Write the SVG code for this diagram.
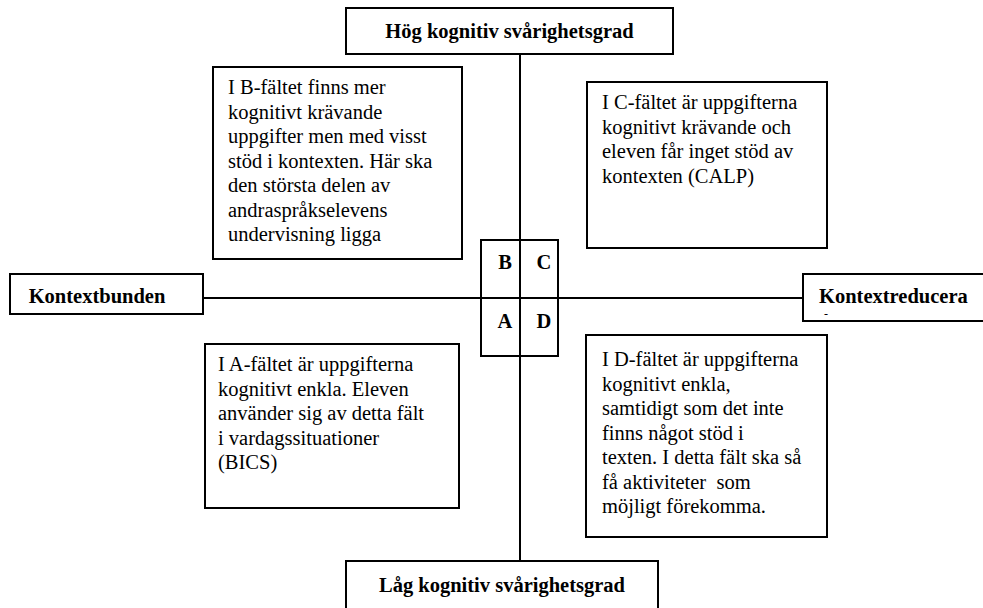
<svg xmlns="http://www.w3.org/2000/svg" width="983" height="608" viewBox="0 0 983 608">
<style>
.box{fill:#fff;stroke:#000;stroke-width:2}
.ln{stroke:#000;stroke-width:2;fill:none}
.t{font-family:"Liberation Serif","Times New Roman",serif;font-size:20.5px;fill:#000}
.b{font-family:"Liberation Serif","Times New Roman",serif;font-size:20.5px;font-weight:bold;fill:#000}
</style>
<rect width="983" height="608" fill="#fff"/>
<g id="connectors">
<line class="ln" x1="520" y1="54" x2="520" y2="561"/>
<line class="ln" x1="203" y1="298" x2="803" y2="298"/>
</g>
<g id="top">
<rect class="box" x="346" y="8" width="327" height="46"/>
<text class="b" x="509.5" y="38" text-anchor="middle">Hög kognitiv svårighetsgrad</text>
</g>
<g id="bottom">
<rect class="box" x="346" y="561" width="312" height="50"/>
<text class="b" x="502" y="592" text-anchor="middle">Låg kognitiv svårighetsgrad</text>
</g>
<g id="left">
<rect class="box" x="10" y="274" width="193" height="40"/>
<text class="b" x="97" y="303" text-anchor="middle">Kontextbunden</text>
</g>
<g id="right">
<rect class="box" x="803" y="274" width="185" height="47"/>
<text class="b" x="819" y="303">Kontextreducera</text>
<text class="t" x="824" y="318" style="font-size:12px">-</text>
</g>
<g id="center">
<rect x="481" y="240" width="77" height="116" fill="none" stroke="#000" stroke-width="2"/>
<line class="ln" x1="520" y1="240" x2="520" y2="356"/>
<line class="ln" x1="481" y1="298" x2="558" y2="298"/>
<text class="b" x="505" y="269" text-anchor="middle">B</text>
<text class="b" x="544" y="269" text-anchor="middle">C</text>
<text class="b" x="505" y="328" text-anchor="middle">A</text>
<text class="b" x="544" y="328" text-anchor="middle">D</text>
</g>
<g id="boxB">
<rect class="box" x="213" y="67" width="249" height="192"/>
<text class="t" x="228" y="94">I B-fältet finns mer</text>
<text class="t" x="228" y="118.5">kognitivt krävande</text>
<text class="t" x="228" y="143">uppgifter men med visst</text>
<text class="t" x="228" y="167.5">stöd i kontexten. Här ska</text>
<text class="t" x="228" y="192">den största delen av</text>
<text class="t" x="228" y="216.5">andraspråkselevens</text>
<text class="t" x="228" y="241">undervisning ligga</text>
</g>
<g id="boxC">
<rect class="box" x="587" y="82" width="240" height="166"/>
<text class="t" x="602" y="109">I C-fältet är uppgifterna</text>
<text class="t" x="602" y="133.5">kognitivt krävande och</text>
<text class="t" x="602" y="158">eleven får inget stöd av</text>
<text class="t" x="602" y="182.5">kontexten (CALP)</text>
</g>
<g id="boxA">
<rect class="box" x="205" y="344" width="254" height="164"/>
<text class="t" x="218" y="371">I A-fältet är uppgifterna</text>
<text class="t" x="218" y="395.5">kognitivt enkla. Eleven</text>
<text class="t" x="218" y="420">använder sig av detta fält</text>
<text class="t" x="218" y="444.5">i vardagssituationer</text>
<text class="t" x="218" y="469">(BICS)</text>
</g>
<g id="boxD">
<rect class="box" x="586" y="335" width="241" height="202"/>
<text class="t" x="602" y="366">I D-fältet är uppgifterna</text>
<text class="t" x="602" y="390.5">kognitivt enkla,</text>
<text class="t" x="602" y="415">samtidigt som det inte</text>
<text class="t" x="602" y="439.5">finns något stöd i</text>
<text class="t" x="602" y="464">texten. I detta fält ska så</text>
<text class="t" x="602" y="488.5" style="white-space:pre">få aktiviteter  som</text>
<text class="t" x="602" y="513">möjligt förekomma.</text>
</g>
</svg>
